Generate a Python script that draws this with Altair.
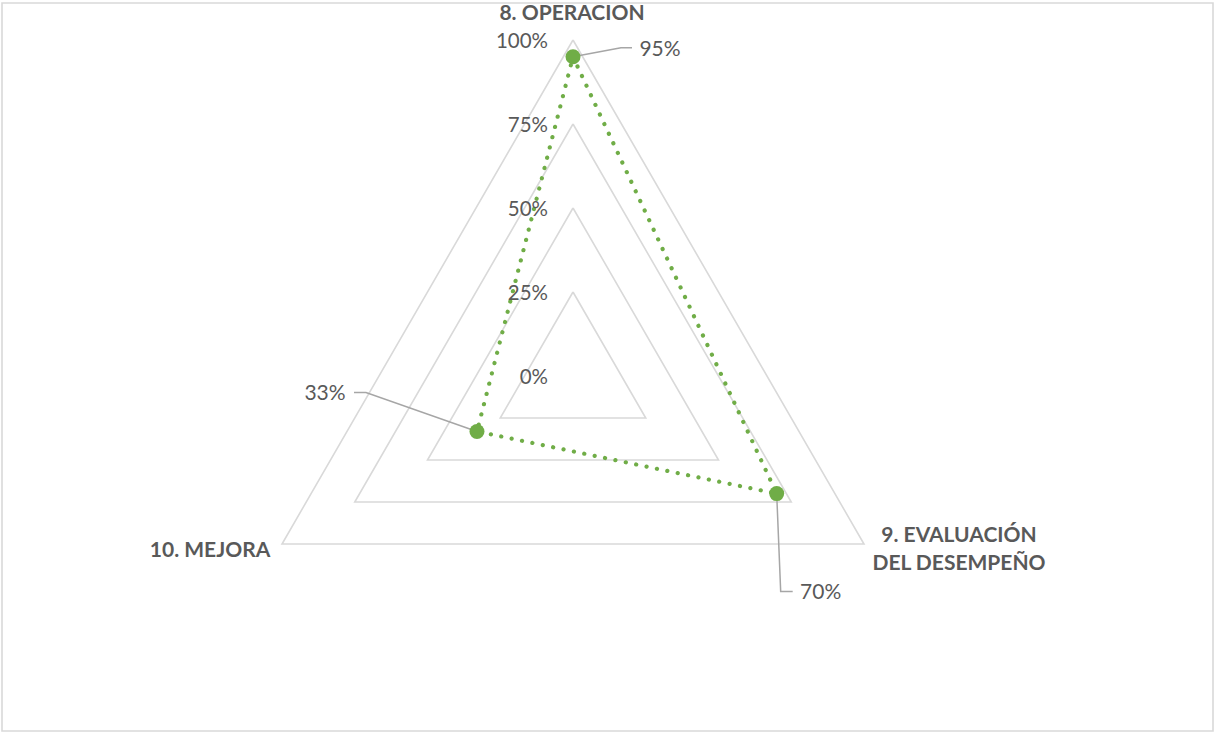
import numpy as np
import pandas as pd
import altair as alt

# ---- data -------------------------------------------------------------
categories = ["8. OPERACION", "9. EVALUACIÓN\nDEL DESEMPEÑO", "10. MEJORA"]
values = [0.95, 0.70, 0.33]
grid_levels = [0.25, 0.50, 0.75, 1.00]
tick_values = [0.0, 0.25, 0.50, 0.75, 1.00]
tick_labels = ["0%", "25%", "50%", "75%", "100%"]

# ---- layout (pixels) --------------------------------------------------
W, H = 1215, 733
CX, CY = 573, 376          # radar centre on the page
R = 336                    # radius of the 100% ring
PAD = {"left": 2, "top": 3, "right": 2, "bottom": 2}

# position of each category label's first line, relative to the outer vertex
CAT_OFFSET = [(-1, -26), (95, -8), (-72, 7)]
# value-label leader: elbow, end, label centre, relative to the data point
LEADER = [
    [(48, -9), (59, -9), (87, -7)],
    [(4, 98), (16, 98), (44, 99)],
    [(-111, -39), (-123, -39), (-152, -37)],
]

TEXT = "#595959"
GRID = "#d9d9d9"
GREEN = "#70ad47"
LEAD = "#a6a6a6"
FONT = "Lato"

n = len(categories)
angles = np.deg2rad([90 - 360 / n * i for i in range(n)])


def px(dx, dy):
    return dx / R, -dy / R


# grid rings
grid_rows = []
for lv in grid_levels:
    for k in range(n + 1):
        a = angles[k % n]
        grid_rows.append({"level": lv, "k": k, "x": lv * np.cos(a), "y": lv * np.sin(a)})
grid_df = pd.DataFrame(grid_rows)

# series polygon
series_rows = []
for k in range(n + 1):
    i = k % n
    series_rows.append({"k": k, "x": values[i] * np.cos(angles[i]), "y": values[i] * np.sin(angles[i])})
series_df = pd.DataFrame(series_rows)

points_df = pd.DataFrame({
    "cat": categories,
    "value": values,
    "x": [v * np.cos(a) for v, a in zip(values, angles)],
    "y": [v * np.sin(a) for v, a in zip(values, angles)],
})

# leader lines and value labels
lead_rows, vlab_rows = [], []
for i, (v, a) in enumerate(zip(values, angles)):
    x0, y0 = v * np.cos(a), v * np.sin(a)
    lead_rows.append({"cat": i, "k": 0, "x": x0, "y": y0})
    for k, (dx, dy) in enumerate(LEADER[i][:2], start=1):
        ox, oy = px(dx, dy)
        lead_rows.append({"cat": i, "k": k, "x": x0 + ox, "y": y0 + oy})
    ox, oy = px(*LEADER[i][2])
    vlab_rows.append({"value": v, "x": x0 + ox, "y": y0 + oy})
lead_df = pd.DataFrame(lead_rows)
vlab_df = pd.DataFrame(vlab_rows)

# category labels
cat_rows = []
for i, (c, a) in enumerate(zip(categories, angles)):
    ox, oy = px(*CAT_OFFSET[i])
    cat_rows.append({"cat": c, "x": np.cos(a) + ox, "y": np.sin(a) + oy})
cat_df = pd.DataFrame(cat_rows)

tick_df = pd.DataFrame({"y": tick_values, "label": tick_labels, "x": [0.0] * len(tick_values)})

# ---- scales ----------------------------------------------------------
vw = W - PAD["left"] - PAD["right"]
vh = H - PAD["top"] - PAD["bottom"]
xs = alt.Scale(domain=[(PAD["left"] - CX) / R, (PAD["left"] + vw - CX) / R], nice=False, zero=False)
ys = alt.Scale(domain=[(CY - (PAD["top"] + vh)) / R, (CY - PAD["top"]) / R], nice=False, zero=False)
X = lambda: alt.X("x:Q", scale=xs, axis=None)
Y = lambda: alt.Y("y:Q", scale=ys, axis=None)

grid = alt.Chart(grid_df).mark_line(color=GRID, strokeWidth=1.6).encode(
    x=X(), y=Y(), detail="level:N", order="k:Q"
)

series = alt.Chart(series_df).mark_line(
    color=GREEN, strokeWidth=4.2, strokeDash=[0.1, 10.5], strokeCap="round"
).encode(x=X(), y=Y(), order="k:Q")

dots = alt.Chart(points_df).mark_circle(color=GREEN, size=225, opacity=1).encode(x=X(), y=Y())

leaders = alt.Chart(lead_df).mark_line(color=LEAD, strokeWidth=1.5).encode(
    x=X(), y=Y(), detail="cat:N", order="k:Q"
)

value_text = alt.Chart(vlab_df).mark_text(
    font=FONT, fontSize=21, color=TEXT, align="center", baseline="middle"
).encode(x=X(), y=Y(), text=alt.Text("value:Q", format=".0%"))

tick_text = alt.Chart(tick_df).mark_text(
    font=FONT, fontSize=20.5, color=TEXT, align="right", baseline="middle", dx=-25, dy=2
).encode(x=X(), y=Y(), text="label:N")

cat_text = alt.Chart(cat_df).mark_text(
    font=FONT, fontSize=21, fontWeight="bold", color=TEXT, align="center",
    baseline="middle", lineBreak="\n", lineHeight=28
).encode(x=X(), y=Y(), text="cat:N")

chart = (
    alt.layer(grid, series, leaders, dots, tick_text, value_text, cat_text)
    .properties(width=vw, height=vh, padding=PAD, autosize="none", background="white")
    .configure_view(stroke=GRID, strokeWidth=1.6)
)

chart.save("out.html", embed_options={"renderer": "svg", "actions": False})
